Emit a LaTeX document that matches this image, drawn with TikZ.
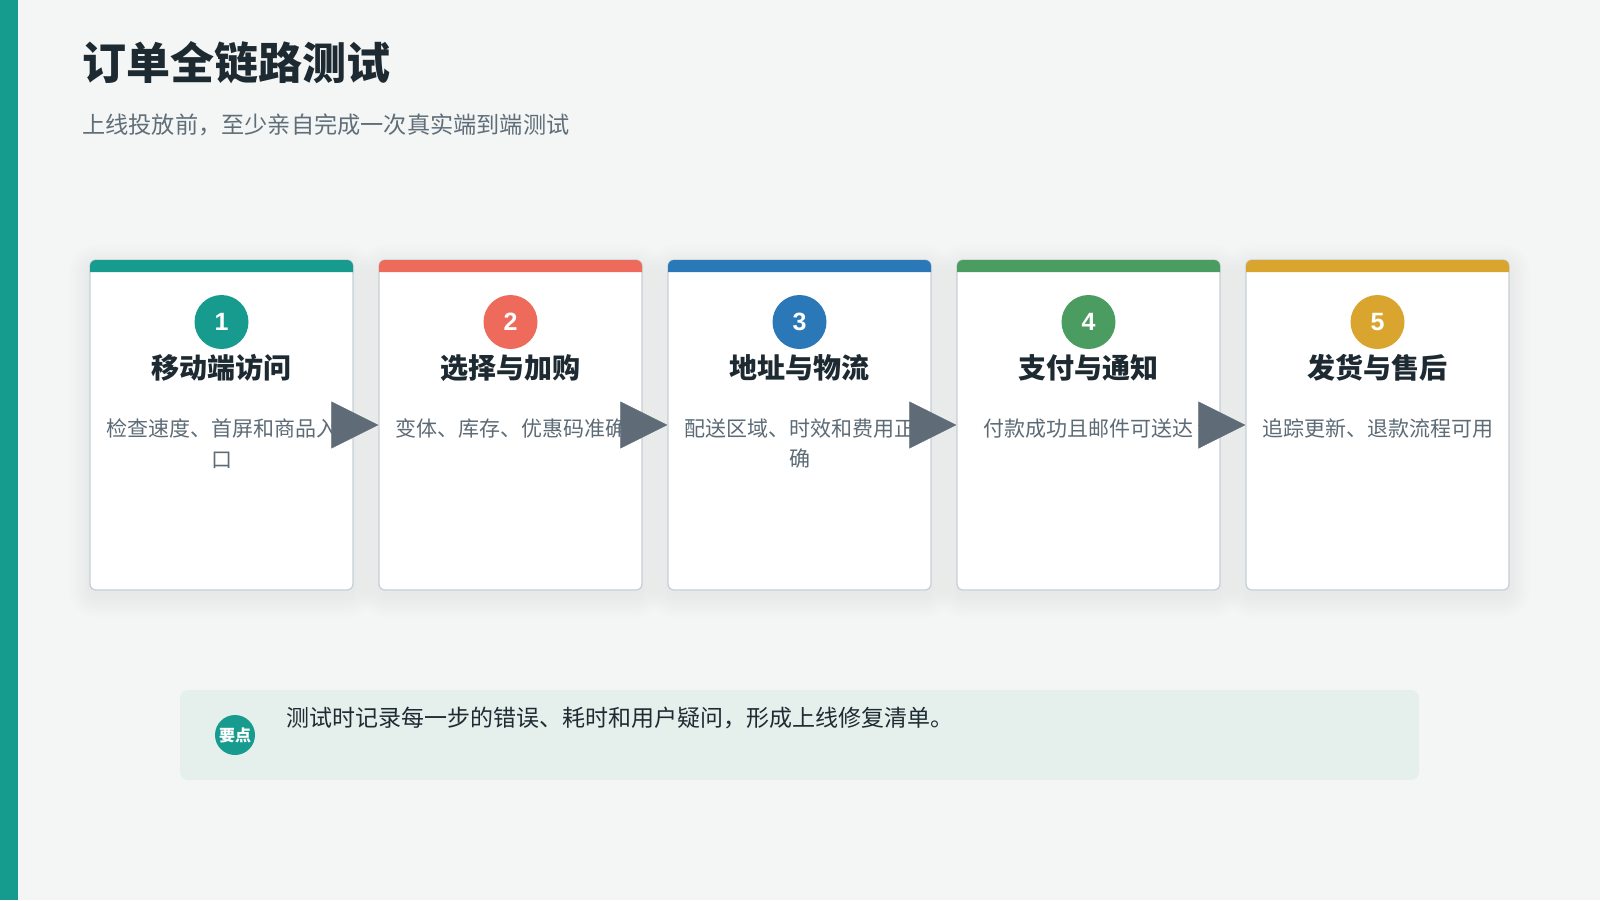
\documentclass[tikz,border=0pt]{standalone}
\usepackage{fontspec}
\setmainfont{Noto Sans CJK SC}
\newfontfamily\numfont{Liberation Sans}
\usetikzlibrary{arrows.meta}
\definecolor{bgcol}{HTML}{F4F6F5}
\definecolor{barcol}{HTML}{169C8F}
\definecolor{cteal}{HTML}{179B8E}
\definecolor{cred}{HTML}{EE6B5B}
\definecolor{cblue}{HTML}{2B78B9}
\definecolor{cgreen}{HTML}{4B9C60}
\definecolor{cgold}{HTML}{DAA52F}
\definecolor{bordercol}{HTML}{C5D0D7}
\definecolor{titlecol}{HTML}{1E2A32}
\definecolor{subcol}{HTML}{5F6E79}
\definecolor{desccol}{HTML}{5D6B76}
\definecolor{arrowcol}{HTML}{5F6C77}
\definecolor{notefill}{HTML}{E5F0ED}
\definecolor{notetext}{HTML}{1F2B33}
\begin{document}
\begin{tikzpicture}[x=1pt,y=-1pt,
  card/.style={draw=bordercol, line width=1.3pt, fill=white, rounded corners=6pt,
    minimum width=263pt, minimum height=330pt, inner sep=0pt},
  shadowlayer/.style={fill=black, fill opacity=0.0055},
  numcircle/.style={circle, minimum size=54pt, inner sep=0pt, text=white,
    font=\numfont\bfseries\fontsize{25}{25}\selectfont},
  cardtitle/.style={font=\bfseries\fontsize{28}{32}\selectfont, text=titlecol, inner sep=0pt},
  desc/.style={font=\fontsize{21}{30.6}\selectfont, text=desccol, align=center, inner sep=0pt, anchor=north},
  flow/.style={draw=arrowcol, line width=0.5pt, -{Triangle[length=47pt,width=47pt]}},
]
\useasboundingbox (0,0) rectangle (1600,900);
\fill[bgcol] (0,0) rectangle (1600,900);
\fill[barcol] (0,0) rectangle (18,900);

\node[anchor=west, inner sep=0pt, text=titlecol, font=\bfseries\fontsize{44}{50}\selectfont] (title) at (82,63) {订单全链路测试};
\node[anchor=west, inner sep=0pt, text=subcol, font=\fontsize{23.2}{28}\selectfont] (subtitle) at (82,124.5) {上线投放前，至少亲自完成一次真实端到端测试};

% cards
\foreach \i/\cx/\col/\ttl/\dsc in {
  1/221.5/cteal/移动端访问/{检查速度、首屏和商品入\\口},
  2/510.5/cred/选择与加购/{变体、库存、优惠码准确},
  3/799.5/cblue/地址与物流/{配送区域、时效和费用正\\确},
  4/1088.5/cgreen/支付与通知/{付款成功且邮件可送达},
  5/1377.5/cgold/发货与售后/{追踪更新、退款流程可用}} {
  \foreach \k in {1,...,12} {
    \pgfmathsetmacro{\e}{\k*1.8}
    \pgfmathsetmacro{\r}{6+\e}
    \fill[shadowlayer, rounded corners=\r pt] (\cx-131.5-\e,260-\e+6) rectangle (\cx+131.5+\e,590+\e+6);
  }
  \node[card] (c\i) at (\cx,425) {};
  \fill[\col] (\cx-131.5,272) [rounded corners=6pt] -- (\cx-131.5,260) -- (\cx+131.5,260) [sharp corners] -- (\cx+131.5,272) -- cycle;
  \node[numcircle, fill=\col] (n\i) at (\cx,322) {\i};
  \node[cardtitle] (t\i) at (\cx,368) {\ttl};
  \node[desc] (d\i) at (\cx,418.5) {\dsc};
}

\foreach \a/\b in {1/2,2/3,3/4,4/5}
  \draw[flow] (c\a.east) -- (c\b.west);

% note
\node[fill=notefill, rounded corners=8pt, minimum width=1239pt, minimum height=90pt, inner sep=0pt] (note) at (799.5,735) {};
\node[circle, fill=cteal, minimum size=40pt, inner sep=0pt, text=white, font=\bfseries\fontsize{16}{16}\selectfont] (badge) at (235,735) {要点};
\node[anchor=west, inner sep=0pt, text=notetext, font=\fontsize{23}{28}\selectfont] (notetxt) at (286,718) {测试时记录每一步的错误、耗时和用户疑问，形成上线修复清单。};
\end{tikzpicture}
\end{document}
